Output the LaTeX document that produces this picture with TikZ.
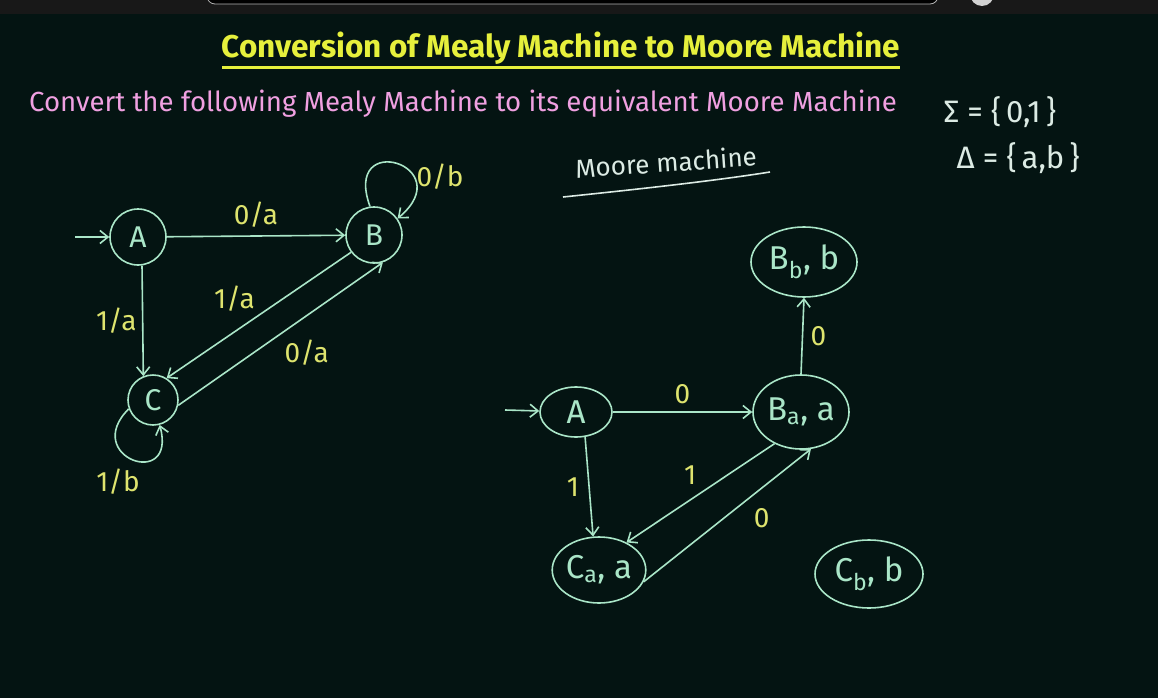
\documentclass[tikz,border=0pt]{standalone}
\usepackage{fontspec}
\setmainfont{Fira Sans}
\usetikzlibrary{arrows.meta,positioning,shapes.geometric}
\definecolor{boardbg}{RGB}{4,20,18}
\definecolor{topbar}{RGB}{24,24,24}
\definecolor{titleyellow}{RGB}{230,240,60}
\definecolor{subpink}{RGB}{240,160,225}
\definecolor{chalk}{RGB}{170,230,200}
\definecolor{chalkyellow}{RGB}{222,228,110}
\definecolor{chalkwhite}{RGB}{220,235,228}

\begin{document}
\begin{tikzpicture}[x=1pt, y=-1pt, every node/.style={font=\fontsize{28}{32}\selectfont},
  mealy/.style={circle, draw=chalk, line width=1.6pt, text=chalk, minimum size=56pt, inner sep=0pt, font=\fontsize{30}{34}\selectfont},
  moore/.style={ellipse, draw=chalk, line width=1.6pt, text=chalk, inner sep=0pt, font=\fontsize{33}{37}\selectfont},
  trans/.style={draw=chalk, line width=1.6pt, -{Straight Barb[length=8pt,width=13pt]}},
  lbl/.style={text=chalkyellow}]
\useasboundingbox (0,0) rectangle (1158,698);
\fill[boardbg] (0,0) rectangle (1158,698);
\begin{scope}
\clip (0,0) rectangle (1158,14);
\fill[topbar] (0,0) rectangle (1158,14);
\draw[gray!60, thick, rounded corners=8pt, fill=black] (207,-20) rectangle (938,4);
\fill[gray!35] (982,-6) circle (12);
\end{scope}

% heading
\node[text=titleyellow, font=\fontsize{31.5}{36}\selectfont\bfseries] (title) at (561,48) {Conversion of Mealy Machine to Moore Machine};
\draw[titleyellow, line width=3pt] (222,68) -- (900,68);
\node[text=subpink, font=\fontsize{27.6}{32}\selectfont] (task) at (463,104) {Convert the following Mealy Machine to its equivalent Moore Machine};
\node[text=chalkwhite, anchor=west, font=\fontsize{31}{35}\selectfont] (sigma) at (940,112) {Σ = \{\,0,1\,\}};
\node[text=chalkwhite, anchor=west, font=\fontsize{31}{35}\selectfont] (delta) at (953,158) {Δ = \{\,a,b\,\}};
\node[text=chalkwhite, rotate=4, font=\fontsize{26}{30}\selectfont] (moorehead) at (666,162) {Moore machine};
\draw[chalkwhite, line width=1.6pt] (563,197) .. controls (650,188) and (720,180) .. (770,172);

% Mealy machine
\node[mealy] (A) at (138,237) {A};
\node[mealy] (B) at (374,235) {B};
\node[mealy, minimum size=50pt] (C) at (153,400) {C};
\coordinate (inA) at (75,237);
\draw[trans] (inA) -- (A);
\draw[trans] (A) -- node[lbl, above=4pt] {0/a} (B);
\draw[trans] (A.-82) -- node[lbl, left=2pt] {1/a} (C.112);
\draw[trans] (B.217) -- node[lbl, above left=0pt and 0pt] {1/a} (C.58);
\draw[trans] (C.-12) -- node[lbl, below right=2pt and 0pt] {0/a} (B.-72);
\draw[trans] (B.98) to[out=110, in=40, looseness=7] (B.35);
\node[lbl] (loopB) at (440,177) {0/b};
\draw[trans] (C.200) to[out=225, in=285, looseness=5] (C.-75);
\node[lbl] (loopC) at (118,482) {1/b};

% Moore machine
\node[moore, minimum width=72pt, minimum height=50pt] (A2) at (576,412) {A};
\node[moore, minimum width=96pt, minimum height=74pt] (Ba) at (801,412) {B\textsubscript{a}, a};
\node[moore, minimum width=106pt, minimum height=70pt] (Bb) at (804,262) {B\textsubscript{b}, b};
\node[moore, minimum width=92pt, minimum height=66pt] (Ca) at (599,570) {C\textsubscript{a}, a};
\node[moore, minimum width=108pt, minimum height=68pt] (Cb) at (869,574) {C\textsubscript{b}, b};
\coordinate (inA2) at (505,410);
\draw[trans] (inA2) -- (A2);
\draw[trans] (A2) -- node[lbl, above=4pt] {0} (Ba);
\draw[trans] (A2.-70) -- node[lbl, left=6pt] {1} (Ca.100);
\draw[trans] (Ba.230) -- node[lbl, above left=4pt and 0pt] {1} (Ca.45);
\draw[trans] (Ca.-15) -- node[lbl, pos=0.55, xshift=26pt, yshift=-9pt] {0} (Ba.-75);
\draw[trans] (Ba.north) -- node[lbl, right=4pt] {0} (Bb.south);
\end{tikzpicture}
\end{document}
